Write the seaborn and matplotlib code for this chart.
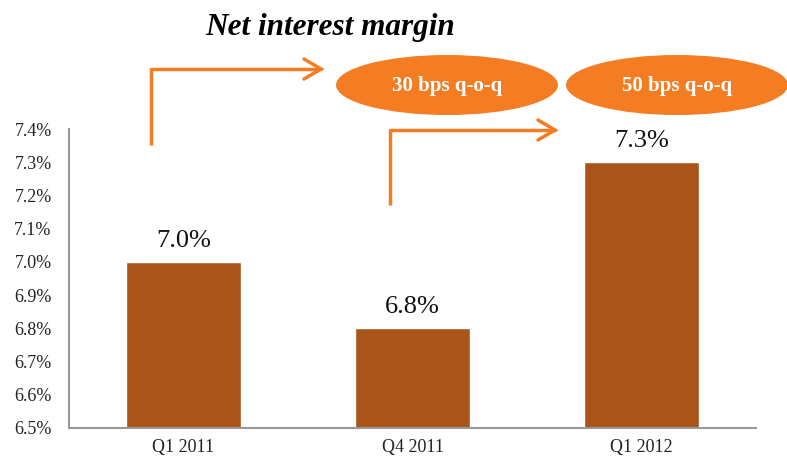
import matplotlib
matplotlib.use("Agg")
import matplotlib.pyplot as plt
import seaborn as sns
import pandas as pd
from matplotlib.patches import Ellipse

# Data
quarters = ["Q1 2011", "Q4 2011", "Q1 2012"]
nim = [7.0, 6.8, 7.3]
yticks = [6.5, 6.6, 6.7, 6.8, 6.9, 7.0, 7.1, 7.2, 7.3, 7.4]
bubble_text = ["30 bps q-o-q", "50 bps q-o-q"]

bar_color = "#A9551A"
orange = "#F47C22"

sns.set_style("white")
plt.rcParams["font.family"] = ["Liberation Serif", "DejaVu Serif"]

df = pd.DataFrame({"quarter": quarters, "nim": nim})

fig = plt.figure(figsize=(7.87, 4.59), dpi=100)
ax = fig.add_axes([69 / 787, 31 / 459, 687 / 787, 299 / 459])

sns.barplot(data=df, x="quarter", y="nim", color=bar_color, width=0.5,
            saturation=1, ax=ax)

ax.set_ylim(6.5, 7.4)
ax.set_yticks(yticks)
ax.set_yticklabels([f"{v:.1f}%" for v in yticks], fontsize=13, color="#222222")
ax.set_xticks(range(len(quarters)))
ax.set_xticklabels(quarters, fontsize=13, color="#222222")
ax.set_xlabel("")
ax.set_ylabel("")
ax.tick_params(axis="y", length=0, pad=12.5)
ax.tick_params(axis="x", length=0, pad=8)
ax.set_xlim(-0.5, 2.5)

for side in ["top", "right"]:
    ax.spines[side].set_visible(False)
for side in ["left", "bottom"]:
    ax.spines[side].set_color("#999999")
    ax.spines[side].set_linewidth(1.5)

# value labels
for i, v in enumerate(nim):
    ax.text(i, v + 0.03, f"{v:.1f}%", ha="center", va="bottom", fontsize=19, color="#111111")

# title
fig.text(330 / 787, 1 - 28 / 459, "Net interest margin", ha="center", va="center",
         fontsize=22.5, fontweight="bold", fontstyle="italic", color="black")

# bubbles (figure pixel coords)
W, H = 787, 459
for cx, txt in zip([447, 677], bubble_text):
    e = Ellipse((cx / W, 1 - 85 / H), 222 / W, 60 / H, transform=fig.transFigure,
                facecolor=orange, edgecolor="none")
    fig.patches.append(e)
    fig.text(cx / W, 1 - 86 / H, txt, ha="center", va="center", fontsize=15,
             fontweight="bold", color="white")

# bent arrows
def bent_arrow(x0, y0, y1, x1):
    fig.add_artist(plt.Line2D([x0 / W, x0 / W], [1 - y0 / H, 1 - y1 / H],
                              transform=fig.transFigure, color=orange, lw=2.5,
                              solid_capstyle="butt"))
    fig.add_artist(plt.Line2D([x0 / W, x1 / W], [1 - y1 / H, 1 - y1 / H],
                              transform=fig.transFigure, color=orange, lw=2.5))
    fig.add_artist(plt.Line2D([(x1 - 17) / W, x1 / W, (x1 - 17) / W],
                              [1 - (y1 - 10) / H, 1 - y1 / H, 1 - (y1 + 10) / H],
                              transform=fig.transFigure, color=orange, lw=2.5,
                              solid_joinstyle="miter"))

bent_arrow(151, 145, 69, 321)
bent_arrow(390, 205, 130, 555)

fig.savefig("out.png", dpi=100)
